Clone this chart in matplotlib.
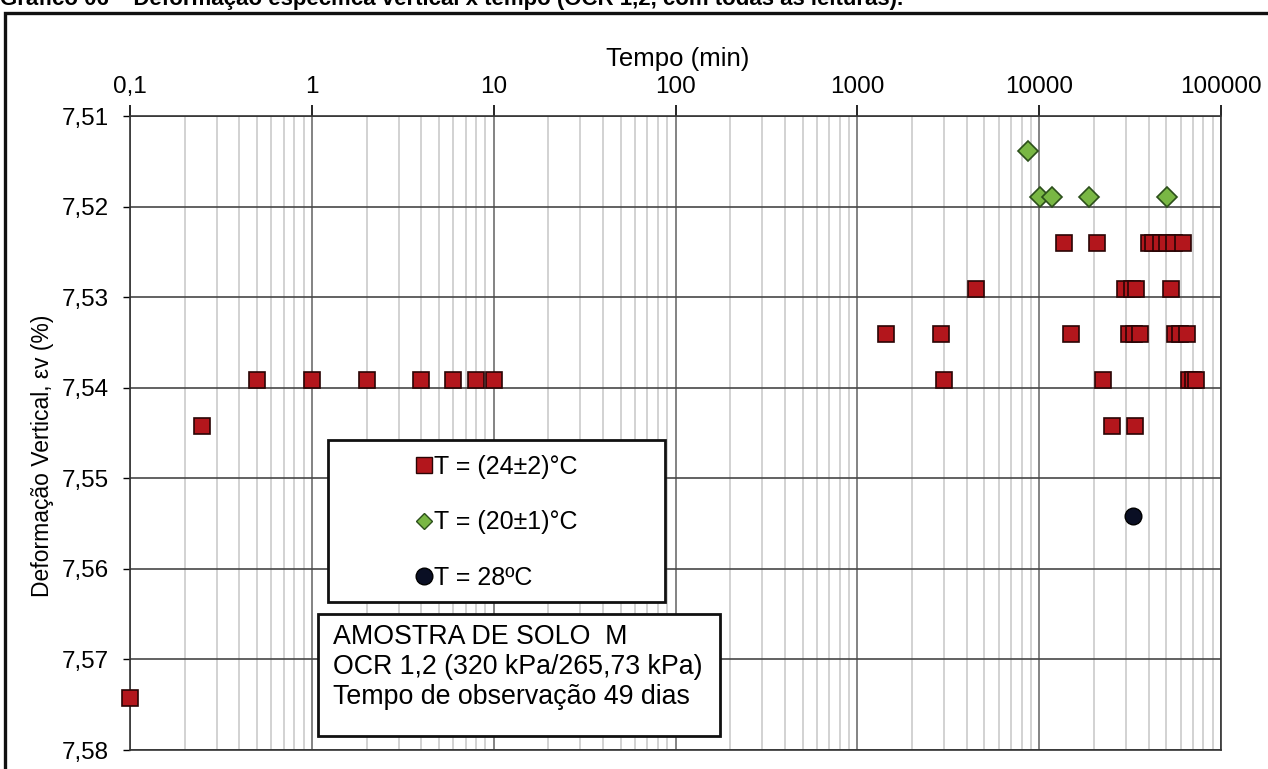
import matplotlib.pyplot as plt
from matplotlib.patches import Rectangle
from matplotlib.lines import Line2D
import matplotlib.ticker as mticker

plt.rcParams['font.family'] = ['Liberation Sans', 'DejaVu Sans']

# T = (24+-2) C
t_24 = [0.1, 0.25, 0.5, 1, 2, 4, 6, 8, 10,
        1440, 2880, 2990, 4500,
        13700, 20700, 40100, 42200, 46700, 50400, 55000, 61600,
        29600, 32300, 34000, 53300,
        14900, 31100, 33100, 35700, 55700, 59300, 64800,
        22300, 66500, 70000, 72700,
        25300, 33600]
ev_24 = [7.5743, 7.5442, 7.5392, 7.5392, 7.5392, 7.5392, 7.5392, 7.5392, 7.5392,
         7.5341, 7.5341, 7.5392, 7.5291,
         7.5240, 7.5240, 7.5240, 7.5240, 7.5240, 7.5240, 7.5240, 7.5240,
         7.5291, 7.5291, 7.5291, 7.5291,
         7.5341, 7.5341, 7.5341, 7.5341, 7.5341, 7.5341, 7.5341,
         7.5392, 7.5392, 7.5392, 7.5392,
         7.5442, 7.5442]

# T = (20+-1) C
t_20 = [8670, 10100, 11700, 18900, 50400]
ev_20 = [7.5139, 7.5189, 7.5189, 7.5189, 7.5189]

# T = 28 C
t_28 = [32800]
ev_28 = [7.5542]

x_ticks = [0.1, 1, 10, 100, 1000, 10000, 100000]
x_labels = ['0,1', '1', '10', '100', '1000', '10000', '100000']
y_ticks = [7.51, 7.52, 7.53, 7.54, 7.55, 7.56, 7.57, 7.58]
y_labels = ['7,51', '7,52', '7,53', '7,54', '7,55', '7,56', '7,57', '7,58']

fig = plt.figure(figsize=(12.68, 7.69), dpi=100)
ax = fig.add_axes([130/1268, 1-750/769, 1091/1268, 634/769])

ax.plot(t_24, ev_24, 's', ms=11, mfc='#b3161c', mec='#2a0505', mew=1.2, zorder=4, clip_on=False)
ax.plot(t_20, ev_20, 'D', ms=10, mfc='#79b744', mec='#2c4f1b', mew=1.2, zorder=4, clip_on=False)
ax.plot(t_28, ev_28, 'o', ms=12, mfc='#0a0f24', mec='#000000', mew=1, zorder=4, clip_on=False)

ax.set_xscale('log')
ax.set_xlim(0.1, 100000)
ax.set_ylim(7.58, 7.51)

ax.xaxis.set_ticks_position('top')
ax.xaxis.set_label_position('top')
ax.set_xticks(x_ticks)
ax.set_xticklabels(x_labels)
ax.xaxis.set_minor_locator(mticker.LogLocator(base=10, subs=range(2, 10), numticks=20))
ax.xaxis.set_minor_formatter(mticker.NullFormatter())
ax.tick_params(axis='x', which='major', direction='out', length=8, width=1.2, pad=5, labelsize=17.5)
ax.tick_params(axis='x', which='minor', length=0)
ax.set_yticks(y_ticks)
ax.set_yticklabels(y_labels)
ax.tick_params(axis='y', direction='out', length=5, width=1, pad=10, labelsize=17.5)

ax.grid(True, axis='x', which='minor', color='#d2d2d2', lw=1.4, zorder=0)
ax.grid(True, axis='x', which='major', color='#6e6e6e', lw=1.2, zorder=1)
ax.grid(True, axis='y', which='major', color='#474747', lw=1.2, zorder=1)
ax.set_axisbelow(True)
for s in ax.spines.values():
    s.set_color('#333333')
    s.set_linewidth(1.2)

ax.set_xlabel('Tempo (min)', fontsize=18.5)
ax.xaxis.set_label_coords((678-130)/1091, (750-66)/634)
ax.set_ylabel('Deformação Vertical, εv (%)', fontsize=16.5)
ax.yaxis.set_label_coords((54-130)/1091, (750-456)/634)

# legend box
lx0, lx1 = (328-130)/1091, (665-130)/1091
ly0, ly1 = (750-602)/634, (750-440)/634
ax.add_patch(Rectangle((lx0, ly0), lx1-lx0, ly1-ly0, transform=ax.transAxes,
                       fc='white', ec='#111111', lw=2, zorder=5))
handles = [
    Line2D([], [], ls='none', marker='s', ms=11, mfc='#b3161c', mec='#2a0505'),
    Line2D([], [], ls='none', marker='D', ms=8, mfc='#79b744', mec='#2c4f1b'),
    Line2D([], [], ls='none', marker='o', ms=12, mfc='#0a0f24', mec='#000000'),
]
leg = ax.legend(handles, ['T = (24±2)°C', 'T = (20±1)°C', 'T = 28ºC'],
                loc='center', bbox_to_anchor=((lx0+lx1)/2, (ly0+ly1)/2 - 0.002),
                frameon=False, fontsize=18, handlelength=0.6, handletextpad=0.1,
                labelspacing=1.25)
leg.set_zorder(6)

# sample info box
bx0, bx1 = (318-130)/1091, (720-130)/1091
by0, by1 = (750-736)/634, (750-614)/634
ax.add_patch(Rectangle((bx0, by0), bx1-bx0, by1-by0, transform=ax.transAxes,
                       fc='white', ec='#111111', lw=2, zorder=5))
ax.text((333-130)/1091, (750-624)/634,
        'AMOSTRA DE SOLO  M\nOCR 1,2 (320 kPa/265,73 kPa)\nTempo de observação 49 dias',
        transform=ax.transAxes, ha='left', va='top', fontsize=19.3, linespacing=1.2, zorder=6)

# outer frame and cropped title
fig.patches.append(Rectangle((5/1268, -0.2), 1.2, 1.2 - 13/769, transform=fig.transFigure,
                             fill=False, ec='#111111', lw=2.4))
fig.text(0.0, 1-5/769, 'Gráfico 06 – Deformação específica vertical x tempo (OCR 1,2, com todas as leituras).',
         fontsize=16, fontweight='bold', ha='left', va='baseline')

fig.savefig('out.png', dpi=100)
